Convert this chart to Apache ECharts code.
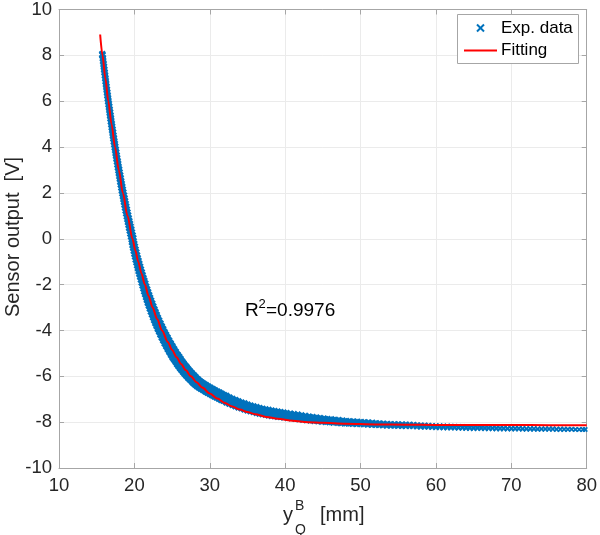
<!DOCTYPE html>
<html><head><meta charset="utf-8">
<script src="https://cdn.jsdelivr.net/npm/echarts@6/dist/echarts.min.js"></script>
<style>html,body{margin:0;padding:0;background:#fff}#chart{width:600px;height:535px}</style>
</head><body><div id="chart"></div>
<script>
// ---- data ----
const xTicks = [10, 20, 30, 40, 50, 60, 70, 80];
const yTicks = [-10, -8, -6, -4, -2, 0, 2, 4, 6, 8, 10];
const seriesNames = ['Exp. data', 'Fitting'];
const xLabelParts = ['y', 'Q', 'B', '[mm]'];
const yLabel = 'Sensor output  [V]';
const r2Parts = ['R', '2', '=0.9976'];

const expPoints = [
[15.74,8.05],[15.77,8.0],[15.82,7.875],[15.86,7.75],[15.91,7.625],[15.96,7.5],[16.00,7.375],[16.05,7.25],[16.10,7.125],[16.15,7.0],
[16.19,6.875],[16.24,6.75],[16.29,6.625],[16.34,6.5],[16.39,6.375],[16.44,6.25],[16.49,6.125],[16.54,6.0],[16.59,5.875],[16.65,5.75],
[16.70,5.625],[16.75,5.5],[16.81,5.375],[16.86,5.25],[16.91,5.125],[16.97,5.0],[17.02,4.875],[17.08,4.75],[17.14,4.625],[17.19,4.5],
[17.25,4.375],[17.31,4.25],[17.37,4.125],[17.43,4.0],[17.49,3.875],[17.55,3.75],[17.61,3.625],[17.67,3.5],[17.74,3.375],[17.80,3.25],
[17.86,3.125],[17.93,3.0],[17.99,2.875],[18.06,2.75],[18.13,2.625],[18.19,2.5],[18.26,2.375],[18.33,2.25],[18.40,2.125],[18.47,2.0],
[18.55,1.875],[18.62,1.75],[18.69,1.625],[18.77,1.5],[18.84,1.375],[18.92,1.25],[19.00,1.125],[19.08,1.0],[19.16,0.875],[19.24,0.75],
[19.32,0.625],[19.40,0.5],[19.49,0.375],[19.57,0.25],[19.66,0.125],[19.75,0.0],[19.79,-0.125],[19.87,-0.25],[19.95,-0.375],[20.04,-0.5],
[20.13,-0.625],[20.22,-0.75],[20.31,-0.875],[20.41,-1.0],[20.51,-1.125],[20.61,-1.25],[20.71,-1.375],[20.82,-1.5],[20.93,-1.625],[21.04,-1.75],
[21.15,-1.875],[21.27,-2.0],[21.38,-2.125],[21.50,-2.25],[21.62,-2.375],[21.75,-2.5],[21.87,-2.625],[22.00,-2.75],[22.14,-2.875],[22.28,-3.0],
[22.42,-3.125],[22.57,-3.25],[22.72,-3.375],[22.87,-3.5],[23.03,-3.625],[23.20,-3.75],[23.37,-3.875],[23.55,-4.0],[23.73,-4.125],[23.92,-4.25],
[24.11,-4.375],[24.31,-4.5],[24.52,-4.625],[24.73,-4.75],[24.95,-4.875],[25.18,-5.0],
[25.4,-5.12],[25.6,-5.21],[25.8,-5.31],[26.0,-5.41],[26.2,-5.50],[26.4,-5.59],[26.6,-5.67],[26.8,-5.75],[27.0,-5.83],[27.25,-5.92],
[27.5,-6.01],[27.75,-6.09],[28.0,-6.18],[28.25,-6.25],[28.5,-6.32],[28.75,-6.38],[29.0,-6.43],[29.3,-6.49],[29.6,-6.55],[29.9,-6.61],
[30.2,-6.66],[30.5,-6.72],[30.8,-6.77],[31.1,-6.82],[31.4,-6.87],[31.7,-6.92],[32.0,-6.96],[32.4,-7.03],[32.8,-7.09],[33.2,-7.14],
[33.6,-7.20],[34.0,-7.25],[34.4,-7.29],[34.8,-7.34],[35.2,-7.38],[35.6,-7.42],[36.0,-7.45],[36.4,-7.49],[36.8,-7.52],[37.2,-7.55],
[37.6,-7.57],[38.0,-7.60],[38.4,-7.62],[38.8,-7.64],[39.2,-7.66],[39.6,-7.68],[40.0,-7.70],[40.5,-7.72],[41.0,-7.74],[41.5,-7.76],
[42.0,-7.79],[42.5,-7.81],[43.0,-7.83],[43.5,-7.85],[44.0,-7.87],[44.5,-7.89],[45.0,-7.91],[45.5,-7.93],[46.0,-7.94],[46.5,-7.96],
[47.0,-7.97],[47.5,-7.99],[48.0,-8.00],[48.5,-8.01],[49.0,-8.02],[49.5,-8.03],[50.0,-8.04],[50.5,-8.05],[51.0,-8.06],[51.5,-8.07],
[52.0,-8.08],[52.5,-8.09],[53.0,-8.10],[53.5,-8.11],[54.0,-8.12],[54.5,-8.12],[55.0,-8.13],[55.5,-8.13],[56.0,-8.14],[56.5,-8.14],
[57.0,-8.15],[57.5,-8.16],[58.0,-8.17],[58.5,-8.17],[59.0,-8.18],[59.5,-8.19],[60.0,-8.20],[60.5,-8.20],[61.0,-8.21],[61.5,-8.21],
[62.0,-8.22],[62.5,-8.22],[63.0,-8.23],[63.5,-8.23],[64.0,-8.24],[64.5,-8.24],[65.0,-8.25],[65.5,-8.25],[66.0,-8.25],[66.5,-8.26],
[67.0,-8.26],[67.5,-8.26],[68.0,-8.27],[68.5,-8.27],[69.0,-8.27],[69.5,-8.28],[70.0,-8.28],[70.5,-8.28],[71.0,-8.28],[71.5,-8.29],
[72.0,-8.29],[72.5,-8.29],[73.0,-8.29],[73.5,-8.30],[74.0,-8.30],[74.5,-8.30],[75.0,-8.30],[75.5,-8.30],[76.0,-8.31],[76.5,-8.31],
[77.0,-8.31],[77.5,-8.31],[78.0,-8.31],[78.5,-8.32],[79.0,-8.32],[79.5,-8.32],[79.8,-8.32]
];

const fitPoints = [
[15.46,8.91],[15.77,8.0],[16.15,7.0],[16.54,6.0],[16.97,5.0],[17.43,4.0],[17.93,3.0],[18.47,2.0],[19.08,1.0],[19.75,0.0],
[20.12,-0.5],[20.51,-1.0],[20.93,-1.5],[21.39,-2.0],[21.88,-2.5],[22.42,-3.0],[23.01,-3.5],[23.67,-4.0],[24.42,-4.5],[25.0,-4.85],
[25.6,-5.17],[26.2,-5.46],[26.8,-5.73],[27.5,-6.00],[28.25,-6.26],[29.0,-6.49],[30.0,-6.75],[31.0,-6.97],[32.0,-7.16],[33.0,-7.32],
[34.0,-7.45],[35.0,-7.56],[36.0,-7.65],[37.5,-7.77],[39.0,-7.85],[41.0,-7.94],[43.0,-8.00],[45.0,-8.03],[48.0,-8.07],[52.0,-8.10],
[56.0,-8.11],[60.0,-8.12],[65.0,-8.12],[70.0,-8.125],[75.0,-8.13],[80.0,-8.13]
];

// ---- styling ----
const FONT = "'Liberation Sans', Arial, Helvetica, sans-serif";
const TXT = '#262626';
const AX = '#a6a6a6';
const GRIDC = '#ebebeb';
const BLUE = '#0072BD';
const RED = '#ff0000';
const XMARK = 'path://M0,2.2L2.2,0L5,2.8L7.8,0L10,2.2L7.2,5L10,7.8L7.8,10L5,7.2L2.2,10L0,7.8L2.8,5Z';

function bandSize(v) {
  const x = v[0];
  const knots = [[15,7],[18,8],[20,9],[22,10.5],[25,12],[38,12],[50,9],[60,7.5],[80,5.5]];
  if (x <= knots[0][0]) return knots[0][1];
  for (let i = 1; i < knots.length; i++) {
    if (x <= knots[i][0]) {
      const [x0, s0] = knots[i-1], [x1, s1] = knots[i];
      return s0 + (s1 - s0) * (x - x0) / (x1 - x0);
    }
  }
  return knots[knots.length-1][1];
}

const axisCommon = {
  type: 'value',
  axisLine: { show: true, onZero: false, lineStyle: { color: AX, width: 1 } },
  axisTick: { show: true, inside: true, length: 5, lineStyle: { color: AX } },
};

const chart = echarts.init(document.getElementById('chart'), null, { renderer: 'canvas' });
chart.setOption({
  animation: false,
  backgroundColor: '#fff',
  grid: { left: 59, right: 12, top: 7, bottom: 67, containLabel: false },
  xAxis: [
    Object.assign({}, axisCommon, {
      position: 'bottom',
      min: xTicks[0], max: xTicks[xTicks.length-1], interval: xTicks[1]-xTicks[0],
      axisLabel: { color: TXT, fontSize: 18.5, fontFamily: FONT, margin: 8 },
      splitLine: { show: true, lineStyle: { color: GRIDC, width: 1 } }
    }),
    Object.assign({}, axisCommon, {
      position: 'top',
      min: xTicks[0], max: xTicks[xTicks.length-1], interval: xTicks[1]-xTicks[0],
      axisLabel: { show: false }, splitLine: { show: false }
    })
  ],
  yAxis: [
    Object.assign({}, axisCommon, {
      position: 'left',
      min: yTicks[0], max: yTicks[yTicks.length-1], interval: yTicks[1]-yTicks[0],
      axisLabel: { color: TXT, fontSize: 18.5, fontFamily: FONT, margin: 7 },
      splitLine: { show: true, lineStyle: { color: GRIDC, width: 1 } }
    }),
    Object.assign({}, axisCommon, {
      position: 'right',
      min: yTicks[0], max: yTicks[yTicks.length-1], interval: yTicks[1]-yTicks[0],
      axisLabel: { show: false }, splitLine: { show: false }
    })
  ],
  series: [
    {
      name: seriesNames[0], type: 'scatter', xAxisIndex: 0, yAxisIndex: 0,
      data: expPoints, symbol: XMARK, symbolSize: bandSize,
      itemStyle: { color: BLUE, opacity: 1 }, z: 2, silent: true, clip: true
    },
    {
      name: seriesNames[1], type: 'line', xAxisIndex: 0, yAxisIndex: 0,
      data: fitPoints, showSymbol: false, symbol: 'none',
      smooth: 0.3, smoothMonotone: 'x',
      lineStyle: { color: RED, width: 2 }, z: 3, silent: true, clip: true
    }
  ],
  graphic: [
    // y-axis title
    { type: 'text', x: 13, y: 237, rotation: Math.PI / 2,
      style: { text: yLabel, font: '20px ' + FONT, fill: TXT, align: 'center', verticalAlign: 'middle' } },
    // x-axis title  y_Q^B  [mm]
    { type: 'text', x: 283, y: 515, style: { text: xLabelParts[0], font: '20px ' + FONT, fill: TXT, align: 'left', verticalAlign: 'middle' } },
    { type: 'text', x: 295, y: 530, style: { text: xLabelParts[1], font: '14px ' + FONT, fill: TXT, align: 'left', verticalAlign: 'middle' } },
    { type: 'text', x: 295, y: 506, style: { text: xLabelParts[2], font: '14px ' + FONT, fill: TXT, align: 'left', verticalAlign: 'middle' } },
    { type: 'text', x: 320, y: 515, style: { text: xLabelParts[3], font: '20px ' + FONT, fill: TXT, align: 'left', verticalAlign: 'middle' } },
    // R^2 annotation
    { type: 'text', x: 245, y: 311, z: 10, style: { text: r2Parts[0], font: '19px ' + FONT, fill: '#000', align: 'left', verticalAlign: 'middle' } },
    { type: 'text', x: 258.5, y: 304, z: 10, style: { text: r2Parts[1], font: '13px ' + FONT, fill: '#000', align: 'left', verticalAlign: 'middle' } },
    { type: 'text', x: 266, y: 311, z: 10, style: { text: r2Parts[2], font: '19px ' + FONT, fill: '#000', align: 'left', verticalAlign: 'middle' } },
    // legend box
    { type: 'rect', z: 20, shape: { x: 457.5, y: 14.5, width: 121, height: 49 },
      style: { fill: '#fff', stroke: AX, lineWidth: 1 } },
    { type: 'line', z: 21, shape: { x1: 477, y1: 24.5, x2: 484, y2: 31.5 }, style: { stroke: BLUE, lineWidth: 2 } },
    { type: 'line', z: 21, shape: { x1: 484, y1: 24.5, x2: 477, y2: 31.5 }, style: { stroke: BLUE, lineWidth: 2 } },
    { type: 'text', z: 21, x: 501, y: 28, style: { text: seriesNames[0], font: '17px ' + FONT, fill: '#000', align: 'left', verticalAlign: 'middle' } },
    { type: 'line', z: 21, shape: { x1: 464, y1: 50.5, x2: 497, y2: 50.5 }, style: { stroke: RED, lineWidth: 2 } },
    { type: 'text', z: 21, x: 501, y: 50.5, style: { text: seriesNames[1], font: '17px ' + FONT, fill: '#000', align: 'left', verticalAlign: 'middle' } }
  ]
});
</script>
</body></html>
